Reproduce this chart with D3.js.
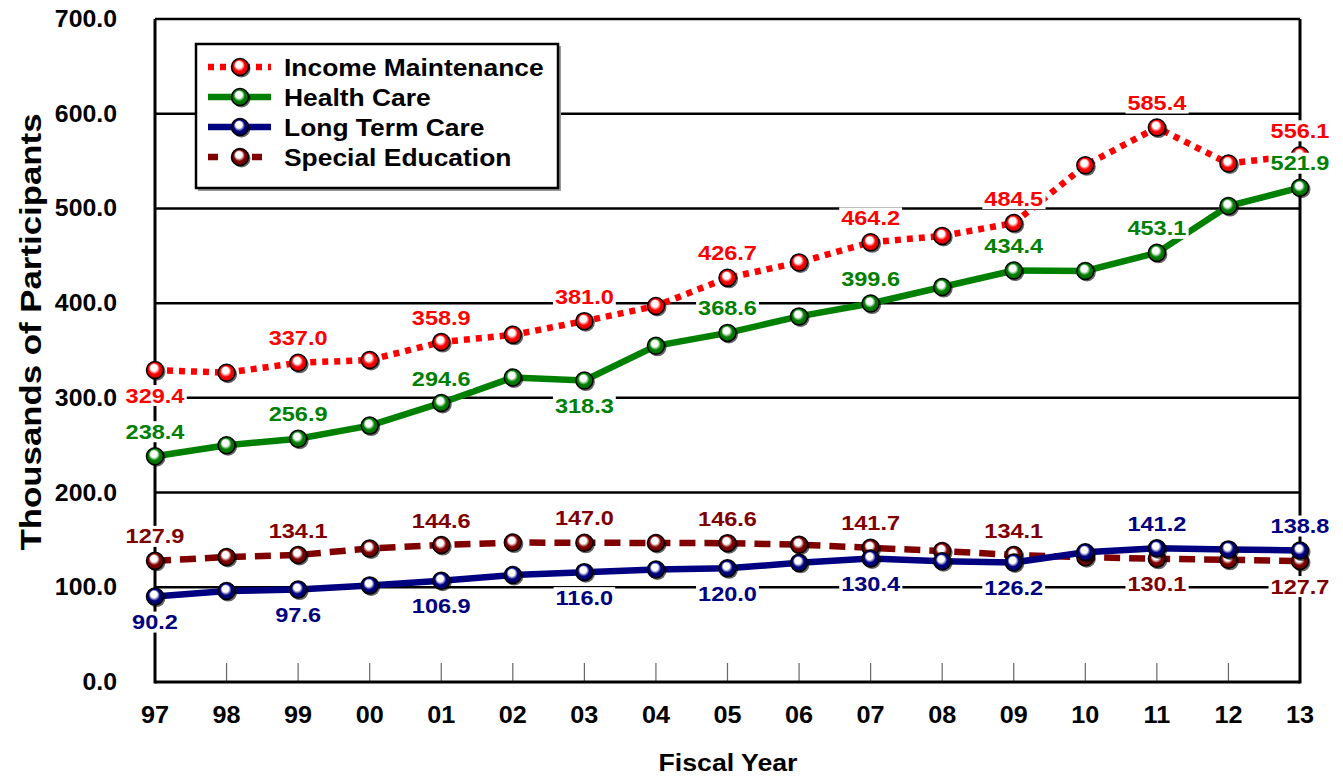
<!DOCTYPE html>
<html>
<head>
<meta charset="utf-8">
<script src="https://cdn.jsdelivr.net/npm/d3@7"></script>
<style>
  body { margin: 0; background: #fff; }
  text { font-family: Arial, "Liberation Sans", sans-serif; font-weight: bold; }
</style>
</head>
<body>
<div id="chart"></div>
<script>
var width = 1343;
var height = 776;

var years = ["97", "98", "99", "00", "01", "02", "03", "04", "05", "06", "07", "08", "09", "10", "11", "12", "13"];
var yTicks = [0, 100, 200, 300, 400, 500, 600, 700];

var incomeMaintenance = [329.4, 326.5, 337.0, 340.0, 358.9, 366.5, 381.0, 397.0, 426.7, 443.0, 464.2, 471.0, 484.5, 545.5, 585.4, 547.5, 556.1];
var healthCare = [238.4, 250.0, 256.9, 270.7, 294.6, 321.5, 318.3, 355.0, 368.6, 386.0, 399.6, 417.0, 434.4, 434.0, 453.1, 502.5, 521.9];
var longTermCare = [90.2, 96.0, 97.6, 102.0, 106.9, 113.0, 116.0, 118.8, 120.0, 125.8, 130.4, 127.5, 126.2, 137.0, 141.2, 140.0, 138.8];
var specialEducation = [127.9, 132.0, 134.1, 141.0, 144.6, 147.2, 147.0, 146.8, 146.6, 145.0, 141.7, 138.3, 134.1, 131.8, 130.1, 129.0, 127.7];

// which points get a value label: 1 = above, -1 = below, 0 = none
var incomeLabels = [-1, 0, 1, 0, 1, 0, 1, 0, 1, 0, 1, 0, 1, 0, 1, 0, 1];
var healthLabels = [1, 0, 1, 0, 1, 0, -1, 0, 1, 0, 1, 0, 1, 0, 1, 0, 1];
var ltcLabels = [-1, 0, -1, 0, -1, 0, -1, 0, -1, 0, -1, 0, -1, 0, 1, 0, 1];
var specialLabels = [1, 0, 1, 0, 1, 0, 1, 0, 1, 0, 1, 0, 1, 0, -1, 0, -1];

var series = [
  { name: "Special Education", values: specialEducation, labels: specialLabels, color: "#800000", dash: "16,9", id: "se" },
  { name: "Long Term Care", values: longTermCare, labels: ltcLabels, color: "#000080", dash: null, id: "ltc" },
  { name: "Health Care", values: healthCare, labels: healthLabels, color: "#008000", dash: null, id: "hc" },
  { name: "Income Maintenance", values: incomeMaintenance, labels: incomeLabels, color: "#ff0000", dash: "6,6", id: "im" }
];
var legendOrder = ["im", "hc", "ltc", "se"];

var plotLeft = 155, plotRight = 1300, plotTop = 19, plotBottom = 682;

var svg = d3
  .select("#chart")
  .append("svg")
  .attr("width", width)
  .attr("height", height);

var x = d3.scalePoint().domain(years).range([plotLeft, plotRight]);
var y = d3.scaleLinear().domain([0, 700]).range([plotBottom, plotTop]);

// the source font is a bit wider than Liberation Sans
function stretch(sel, f) {
  sel.each(function() {
    var w = this.getComputedTextLength();
    d3.select(this).attr("textLength", w * f).attr("lengthAdjust", "spacingAndGlyphs");
  });
}

// sphere-like marker gradients
var defs = svg.append("defs");
series.forEach(function(s) {
  var g = defs
    .append("radialGradient")
    .attr("id", "grad-" + s.id)
    .attr("cx", "50%")
    .attr("cy", "50%")
    .attr("r", "55%")
    .attr("fx", "40%")
    .attr("fy", "30%");
  g.append("stop").attr("offset", "0%").attr("stop-color", "#fff");
  g.append("stop").attr("offset", "35%").attr("stop-color", "#fff");
  g.append("stop").attr("offset", "60%").attr("stop-color", s.color);
  g.append("stop").attr("offset", "100%").attr("stop-color", d3.color(s.color).darker(0.8));
});

// gridlines
svg
  .append("g")
  .selectAll("line")
  .data(yTicks.slice(1))
  .enter()
  .append("line")
  .attr("x1", plotLeft)
  .attr("x2", plotRight)
  .attr("y1", function(d) { return y(d); })
  .attr("y2", function(d) { return y(d); })
  .attr("stroke", "#000")
  .attr("stroke-width", 2.5);

// x tick marks (inside)
svg
  .append("g")
  .selectAll("line")
  .data(years.slice(1, -1))
  .enter()
  .append("line")
  .attr("x1", function(d) { return x(d); })
  .attr("x2", function(d) { return x(d); })
  .attr("y1", plotBottom - 19)
  .attr("y2", plotBottom)
  .attr("stroke", "#666")
  .attr("stroke-width", 1.2);

// frame lines
svg.append("line").attr("x1", plotLeft).attr("x2", plotLeft).attr("y1", plotTop).attr("y2", plotBottom + 1.5)
  .attr("stroke", "#000").attr("stroke-width", 3);
svg.append("line").attr("x1", plotRight).attr("x2", plotRight).attr("y1", plotTop).attr("y2", plotBottom + 1.5)
  .attr("stroke", "#000").attr("stroke-width", 3);
svg.append("line").attr("x1", plotLeft).attr("x2", plotRight).attr("y1", plotBottom).attr("y2", plotBottom)
  .attr("stroke", "#000").attr("stroke-width", 3);

// y tick labels
svg
  .append("g")
  .selectAll("text")
  .data(yTicks)
  .enter()
  .append("text")
  .attr("x", 117)
  .attr("y", function(d) { return y(d); })
  .attr("dy", "0.35em")
  .attr("text-anchor", "end")
  .attr("font-size", 23)
  .text(function(d) { return d.toFixed(1); })
  .call(stretch, 1.08);

// x tick labels
svg
  .append("g")
  .selectAll("text")
  .data(years)
  .enter()
  .append("text")
  .attr("x", function(d) { return x(d); })
  .attr("y", 715)
  .attr("dy", "0.35em")
  .attr("text-anchor", "middle")
  .attr("font-size", 24)
  .text(function(d) { return d; })
  .call(stretch, 1.05);

svg.append("text")
  .attr("x", 728)
  .attr("y", 763)
  .attr("dy", "0.35em")
  .attr("text-anchor", "middle")
  .attr("font-size", 23)
  .text("Fiscal Year")
  .call(stretch, 1.16);

svg.append("text")
  .attr("transform", "translate(30,332) rotate(-90)")
  .attr("dy", "0.35em")
  .attr("text-anchor", "middle")
  .attr("font-size", 30)
  .text("Thousands of Participants")
  .call(stretch, 1.16);

var line = d3
  .line()
  .x(function(d, i) { return x(years[i]); })
  .y(function(d) { return y(d); });

function drawMarker(g, cx, cy, s) {
  g.append("circle")
    .attr("cx", cx + 1.5)
    .attr("cy", cy + 1.5)
    .attr("r", 9)
    .attr("fill", "#000")
    .attr("opacity", 0.6);
  g.append("circle")
    .attr("cx", cx)
    .attr("cy", cy)
    .attr("r", 8.5)
    .attr("fill", "url(#grad-" + s.id + ")")
    .attr("stroke", "#000")
    .attr("stroke-width", 1.5);
}

series.forEach(function(s) {
  var g = svg.append("g");
  g.append("path")
    .datum(s.values)
    .attr("d", line)
    .attr("fill", "none")
    .attr("stroke", s.color)
    .attr("stroke-width", 6.5)
    .attr("stroke-dasharray", s.dash);
  s.values.forEach(function(v, i) {
    drawMarker(g, x(years[i]), y(v), s);
  });
});

// value labels with white backing
var labelLayer = svg.append("g");
series.forEach(function(s) {
  s.values.forEach(function(v, i) {
    if (!s.labels[i]) return;
    var cy = y(v) - s.labels[i] * 25;
    var t = labelLayer
      .append("text")
      .attr("x", x(years[i]))
      .attr("y", cy)
      .attr("dy", "0.36em")
      .attr("text-anchor", "middle")
      .attr("font-size", 21)
      .attr("fill", s.color)
      .text(v.toFixed(1))
      .call(stretch, 1.12);
    var bb = t.node().getBBox();
    labelLayer
      .insert("rect", function() { return t.node(); })
      .attr("x", bb.x - 2)
      .attr("y", cy - 10)
      .attr("width", bb.width + 4)
      .attr("height", 21)
      .attr("fill", "#fff");
  });
});

// legend
var legend = svg.append("g");
legend.append("rect")
  .attr("x", 198).attr("y", 46).attr("width", 363).attr("height", 145)
  .attr("fill", "#999");
legend.append("rect")
  .attr("x", 196).attr("y", 44).attr("width", 362).attr("height", 144)
  .attr("fill", "#fff").attr("stroke", "#000").attr("stroke-width", 2.5);

legendOrder.forEach(function(id, k) {
  var s = series.filter(function(d) { return d.id === id; })[0];
  var ly = 67 + k * 30;
  var dash = s.id === "se" ? "10,34" : s.dash;
  legend.append("line")
    .attr("x1", 208).attr("x2", 271).attr("y1", ly).attr("y2", ly)
    .attr("stroke", s.color).attr("stroke-width", 6.5)
    .attr("stroke-dasharray", dash);
  drawMarker(legend, 240, ly, s);
  legend.append("text")
    .attr("x", 284).attr("y", ly)
    .attr("dy", "0.36em")
    .attr("font-size", 24)
    .text(s.name)
    .call(stretch, 1.1);
});
</script>
</body>
</html>
